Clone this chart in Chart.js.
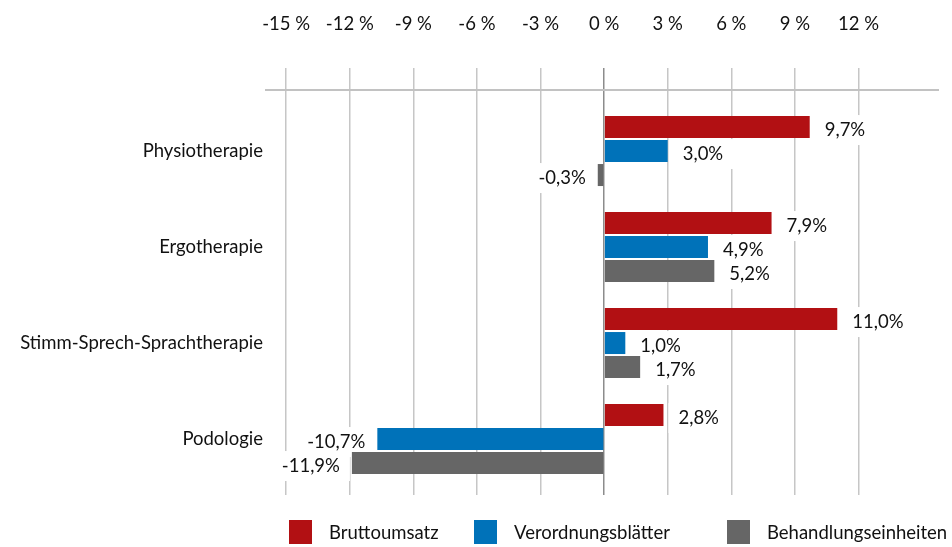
<!DOCTYPE html>
<html>
<head>
<meta charset="utf-8">
<script src="https://cdn.jsdelivr.net/npm/chart.js@4.4.1/dist/chart.umd.min.js"></script>
<style>
	html, body { margin: 0; padding: 0; background: #fff; }
	#wrap { position: relative; width: 952px; height: 547px; }
	#legend { position: absolute; left: 0; top: 520px; width: 952px; height: 24px; font: 18.5px Lato, sans-serif; color: #111; }
	.item { position: absolute; top: 0; height: 24px; display: flex; align-items: center; white-space: nowrap; }
	.box { width: 23px; height: 24px; margin-right: 17px; }
</style>
</head>
<body>
<div id="wrap">
	<canvas id="chart" width="952" height="547"></canvas>
	<div id="legend"></div>
</div>
<script>
var categories = ['Physiotherapie', 'Ergotherapie', 'Stimm-Sprech-Sprachtherapie', 'Podologie'];
var bruttoumsatz = [9.7, 7.9, 11.0, 2.8];
var verordnungsblaetter = [3.0, 4.9, 1.0, -10.7];
var behandlungseinheiten = [-0.3, 5.2, 1.7, -11.9];
var seriesNames = ['Bruttoumsatz', 'Verordnungsblätter', 'Behandlungseinheiten'];
var seriesColors = ['#b21013', '#0072b9', '#666666'];
var xTicks = [-15, -12, -9, -6, -3, 0, 3, 6, 9, 12];

var FONT = 'Lato, "Open Sans", sans-serif';
var FONT_SIZE = 18.5;
var TEXT = '#111111';

function toPoints(values) {
	return values.map(function (v, i) { return { x: v, y: i }; });
}

function fmt(v) {
	return v.toFixed(1).replace('.', ',') + '%';
}

// value labels with white boxes that cut the grid lines
var valueLabels = {
	id: 'valueLabels',
	_items: function (chart) {
		var ctx = chart.ctx;
		var out = [];
		ctx.save();
		ctx.font = FONT_SIZE + 'px ' + FONT;
		chart.data.datasets.forEach(function (ds, di) {
			var meta = chart.getDatasetMeta(di);
			meta.data.forEach(function (el, i) {
				var v = ds.data[i].x;
				var text = fmt(v);
				var w = ctx.measureText(text).width;
				var left = v >= 0 ? el.x + 15 : el.x - 12 - w;
				out.push({ text: text, left: left, w: w, y: el.y + 3 });
			});
		});
		ctx.restore();
		return out;
	},
	beforeDatasetsDraw: function (chart) {
		var ctx = chart.ctx;
		var area = chart.chartArea;
		ctx.save();
		// top rule under the grid line starts
		ctx.strokeStyle = '#c2c2c2';
		ctx.lineWidth = 2;
		ctx.beginPath();
		ctx.moveTo(area.left, area.top + 22);
		ctx.lineTo(area.right, area.top + 22);
		ctx.stroke();
		ctx.fillStyle = '#ffffff';
		this._items(chart).forEach(function (it) {
			ctx.fillRect(it.left - 10, it.y - 15, it.w + 20, 30);
		});
		ctx.restore();
	},
	afterDatasetsDraw: function (chart) {
		var ctx = chart.ctx;
		ctx.save();
		ctx.font = FONT_SIZE + 'px ' + FONT;
		ctx.fillStyle = TEXT;
		ctx.textAlign = 'left';
		ctx.textBaseline = 'middle';
		this._items(chart).forEach(function (it) {
			ctx.fillText(it.text, it.left, it.y);
		});
		ctx.restore();
	}
};

var chart = new Chart(document.getElementById('chart'), {
	type: 'bar',
	data: {
		datasets: [
			{ label: seriesNames[0], data: toPoints(bruttoumsatz), backgroundColor: seriesColors[0] },
			{ label: seriesNames[1], data: toPoints(verordnungsblaetter), backgroundColor: seriesColors[1] },
			{ label: seriesNames[2], data: toPoints(behandlungseinheiten), backgroundColor: seriesColors[2] }
		]
	},
	options: {
		indexAxis: 'y',
		responsive: false,
		animation: false,
		categoryPercentage: 0.75,
		barPercentage: 0.917,
		layout: { padding: { left: 0, right: 13, top: 0, bottom: 52 } },
		plugins: {
			legend: { display: false },
			tooltip: { enabled: false }
		},
		scales: {
			x: {
				type: 'linear',
				position: 'top',
				min: -16,
				max: 15.8,
				afterBuildTicks: function (s) {
					s.ticks = xTicks.map(function (v) { return { value: v }; });
				},
				afterFit: function (s) { s.height = 68; },
				border: { display: false },
				grid: {
					drawTicks: false,
					lineWidth: 1.5,
					color: function (c) {
						return c.tick && c.tick.value === 0 ? '#8c8c8c' : '#c6c6c6';
					}
				},
				ticks: {
					autoSkip: false,
					maxRotation: 0,
					padding: 33,
					color: TEXT,
					font: { family: FONT, size: FONT_SIZE },
					callback: function (v) { return v + ' %'; }
				}
			},
			y: {
				type: 'linear',
				reverse: true,
				offset: false,
				min: -0.865,
				max: 3.583,
				afterBuildTicks: function (s) {
					s.ticks = categories.map(function (c, i) { return { value: i }; });
				},
				afterFit: function (s) { s.width = 265; },
				border: { display: false },
				grid: { display: false, drawTicks: false, offset: false },
				ticks: {
					autoSkip: false,
					padding: 2,
					color: TEXT,
					font: { family: FONT, size: FONT_SIZE },
					callback: function (v) { return categories[v]; }
				}
			}
		}
	},
	plugins: [valueLabels]
});

// legend under the plot
var legendLeft = [289, 474, 727];
var legendEl = document.getElementById('legend');
chart.data.datasets.forEach(function (ds, i) {
	var item = document.createElement('div');
	item.className = 'item';
	item.style.left = legendLeft[i] + 'px';
	var box = document.createElement('span');
	box.className = 'box';
	box.style.background = ds.backgroundColor;
	var label = document.createElement('span');
	label.textContent = ds.label;
	item.appendChild(box);
	item.appendChild(label);
	legendEl.appendChild(item);
});
</script>
</body>
</html>
